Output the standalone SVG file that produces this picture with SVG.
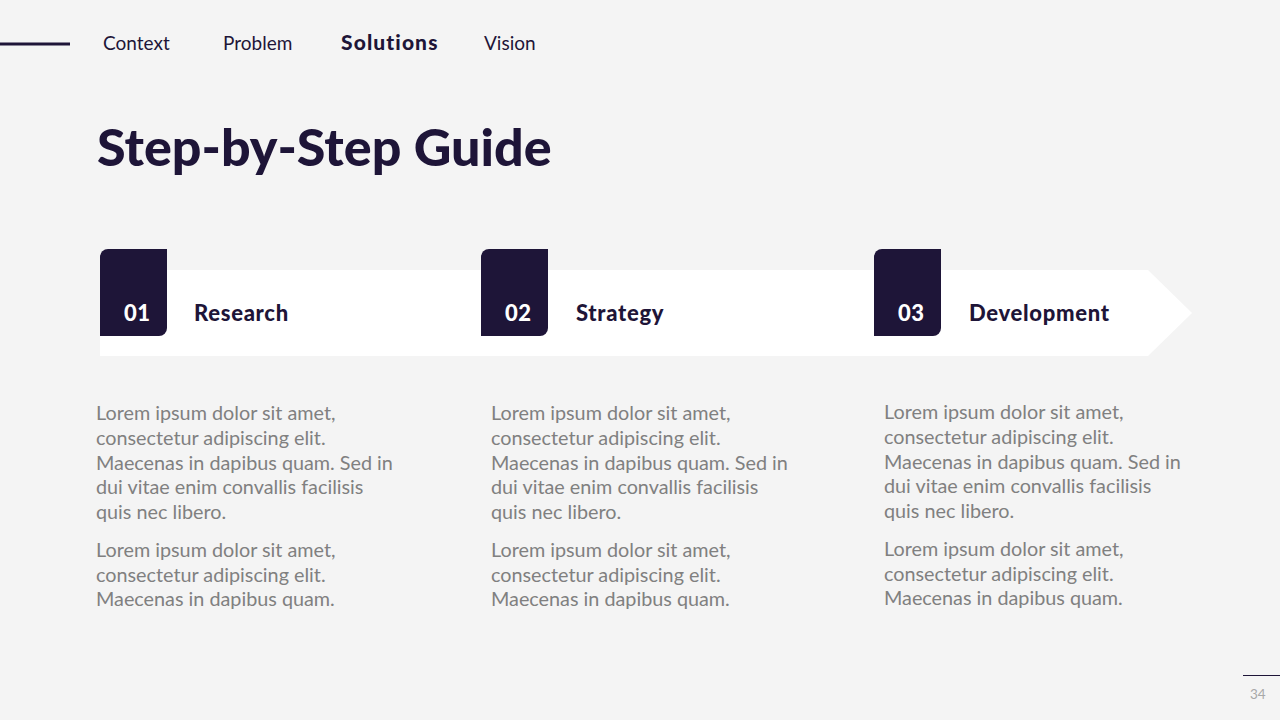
<svg xmlns="http://www.w3.org/2000/svg" width="1280" height="720" viewBox="0 0 1280 720">
<style>
.nav{font-family:Lato,"Noto Sans",sans-serif;font-size:19px;fill:#1e1538}
.navb{font-weight:900;font-size:21px;letter-spacing:1.1px}
.title{font-family:Lato,"Noto Sans",sans-serif;font-size:52px;font-weight:900;fill:#1e1538}
.num{font-family:Lato,"Noto Sans",sans-serif;font-size:22px;font-weight:900;fill:#ffffff;letter-spacing:0.5px}
.lbl{font-family:Lato,"Noto Sans",sans-serif;font-size:22px;font-weight:900;fill:#1e1538;letter-spacing:0.7px}
.body{font-family:Lato,"Noto Sans",sans-serif;font-size:19.8px;fill:#808080}
.box{fill:#1e1538}
.pg{font-family:Lato,"Noto Sans",sans-serif;font-size:13.5px;fill:#a8a8a8}
</style>
<rect width="1280" height="720" fill="#f4f4f4"/>
<g id="header">
<line x1="0" y1="44" x2="70" y2="44" stroke="#1e1538" stroke-width="3"/>
<text class="nav" x="103" y="50">Context</text>
<text class="nav" x="223" y="50">Problem</text>
<text class="nav navb" x="341" y="50">Solutions</text>
<text class="nav" x="484" y="50">Vision</text>
</g>
<text class="title" x="97" y="166">Step-by-Step Guide</text>
<g id="band">
<polygon points="100,270 1148,270 1192,313 1148,356 100,356" fill="#ffffff"/>
</g>
<g id="step1">
<path class="box" d="M108,249 H167 V328 A8,8 0 0 1 159,336 H100 V257 A8,8 0 0 1 108,249 Z"/>
<text class="num" x="124" y="321">01</text>
<text class="lbl" x="194" y="321">Research</text>
<text class="body"><tspan x="96" y="420">Lorem ipsum dolor sit amet,</tspan><tspan x="96" y="445">consectetur adipiscing elit.</tspan><tspan x="96" y="470">Maecenas in dapibus quam. Sed in</tspan><tspan x="96" y="494">dui vitae enim convallis facilisis</tspan><tspan x="96" y="519">quis nec libero.</tspan><tspan x="96" y="557">Lorem ipsum dolor sit amet,</tspan><tspan x="96" y="582">consectetur adipiscing elit.</tspan><tspan x="96" y="606">Maecenas in dapibus quam.</tspan></text>
</g>
<g id="step2">
<path class="box" d="M489,249 H548 V328 A8,8 0 0 1 540,336 H481 V257 A8,8 0 0 1 489,249 Z"/>
<text class="num" x="505" y="321">02</text>
<text class="lbl" x="576" y="321">Strategy</text>
<text class="body"><tspan x="491" y="420">Lorem ipsum dolor sit amet,</tspan><tspan x="491" y="445">consectetur adipiscing elit.</tspan><tspan x="491" y="470">Maecenas in dapibus quam. Sed in</tspan><tspan x="491" y="494">dui vitae enim convallis facilisis</tspan><tspan x="491" y="519">quis nec libero.</tspan><tspan x="491" y="557">Lorem ipsum dolor sit amet,</tspan><tspan x="491" y="582">consectetur adipiscing elit.</tspan><tspan x="491" y="606">Maecenas in dapibus quam.</tspan></text>
</g>
<g id="step3">
<path class="box" d="M882,249 H941 V328 A8,8 0 0 1 933,336 H874 V257 A8,8 0 0 1 882,249 Z"/>
<text class="num" x="898" y="321">03</text>
<text class="lbl" x="969" y="321">Development</text>
<text class="body"><tspan x="884" y="419">Lorem ipsum dolor sit amet,</tspan><tspan x="884" y="444">consectetur adipiscing elit.</tspan><tspan x="884" y="469">Maecenas in dapibus quam. Sed in</tspan><tspan x="884" y="493">dui vitae enim convallis facilisis</tspan><tspan x="884" y="518">quis nec libero.</tspan><tspan x="884" y="556">Lorem ipsum dolor sit amet,</tspan><tspan x="884" y="581">consectetur adipiscing elit.</tspan><tspan x="884" y="605">Maecenas in dapibus quam.</tspan></text>
</g>
<g id="connectors"></g>
<g id="footer">
<line x1="1243" y1="675.5" x2="1280" y2="675.5" stroke="#1e1538" stroke-width="1"/>
<text class="pg" x="1250" y="699">34</text>
</g>
</svg>
